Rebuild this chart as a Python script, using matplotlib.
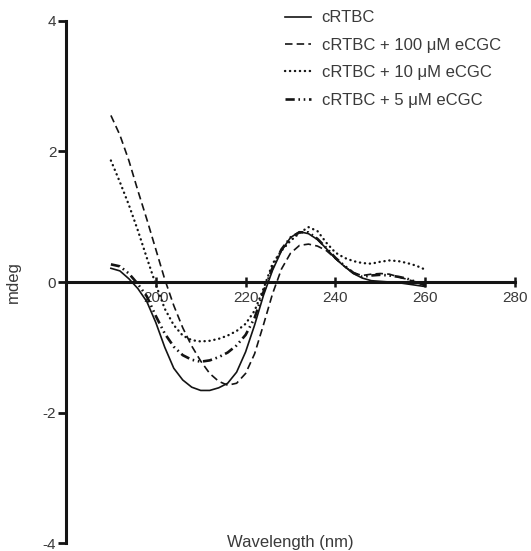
import matplotlib
matplotlib.use("Agg")
import matplotlib.pyplot as plt

plt.rcParams['font.family'] = ['Liberation Sans', 'DejaVu Sans']
plt.rcParams['axes.unicode_minus'] = False

# Wavelength grid (nm) and CD signal (mdeg) for each sample
wavelength = [190, 192, 194, 196, 198, 200, 202, 204, 206, 208, 210, 212,
              214, 216, 218, 220, 222, 224, 226, 228, 230, 232, 234, 236,
              238, 240, 242, 244, 246, 248, 250, 252, 254, 256, 258, 260]

crtbc = [0.21, 0.17, 0.05, -0.10, -0.30, -0.62, -1.00, -1.32, -1.50, -1.61,
         -1.66, -1.66, -1.62, -1.55, -1.38, -1.07, -0.66, -0.20, 0.18, 0.48,
         0.68, 0.77, 0.74, 0.65, 0.51, 0.36, 0.24, 0.13, 0.06, 0.02,
         0.01, 0.00, -0.01, -0.03, -0.05, -0.07]

crtbc_100 = [2.55, 2.25, 1.86, 1.40, 0.96, 0.50, 0.04, -0.36, -0.70, -0.98,
             -1.21, -1.40, -1.52, -1.58, -1.55, -1.40, -1.10, -0.65, -0.18, 0.20,
             0.44, 0.56, 0.58, 0.55, 0.48, 0.36, 0.24, 0.14, 0.10, 0.12,
             0.13, 0.12, 0.08, 0.04, 0.00, -0.05]

crtbc_10 = [1.86, 1.53, 1.18, 0.79, 0.37, -0.04, -0.41, -0.66, -0.82, -0.89,
            -0.91, -0.90, -0.87, -0.82, -0.75, -0.64, -0.44, -0.10, 0.28, 0.48,
            0.63, 0.75, 0.84, 0.78, 0.60, 0.45, 0.37, 0.32, 0.29, 0.28,
            0.31, 0.33, 0.32, 0.29, 0.25, 0.19]

crtbc_5 = [0.27, 0.24, 0.13, -0.03, -0.22, -0.52, -0.79, -0.99, -1.12, -1.19,
           -1.22, -1.20, -1.15, -1.08, -0.97, -0.81, -0.55, -0.15, 0.22, 0.50,
           0.68, 0.76, 0.76, 0.66, 0.52, 0.37, 0.25, 0.14, 0.08, 0.10,
           0.11, 0.10, 0.08, 0.05, 0.00, -0.05]

labels = ["cRTBC",
          "cRTBC + 100 \u03bcM eCGC",
          "cRTBC + 10 \u03bcM eCGC",
          "cRTBC + 5 \u03bcM eCGC"]

x_ticks = [200, 220, 240, 260, 280]
y_ticks = [-4, -2, 0, 2, 4]

ink = '#141414'
text_col = '#3a3a3a'

fig = plt.figure(figsize=(5.31, 5.51), dpi=100)
ax = fig.add_axes([66 / 531, 7.7 / 551, 449 / 531, 522.6 / 551])

h1, = ax.plot(wavelength, crtbc, color=ink, lw=1.2, ls='-')
h2, = ax.plot(wavelength, crtbc_100, color=ink, lw=1.2, ls=(0, (4.5, 2.5)))
h3, = ax.plot(wavelength, crtbc_10, color=ink, lw=1.7, ls=(0, (0.1, 2.0)),
              dash_capstyle='round')
h4, = ax.plot(wavelength, crtbc_5, color=ink, lw=1.9,
              ls=(0, (3.5, 1.4, 0.6, 1.4, 0.6, 1.4)))

ax.set_xlim(180, 280)
ax.set_ylim(-4, 4)

for side in ('top', 'right'):
    ax.spines[side].set_visible(False)
ax.spines['bottom'].set_position(('data', 0))
ax.spines['left'].set_linewidth(2.2)
ax.spines['bottom'].set_linewidth(2.2)
ax.spines['left'].set_color(ink)
ax.spines['bottom'].set_color(ink)

ax.set_xticks(x_ticks)
ax.set_yticks(y_ticks)
ax.tick_params(axis='x', direction='inout', length=7, width=1.8, color=ink,
               labelsize=11, labelcolor=text_col, pad=3)
ax.tick_params(axis='y', direction='out', length=6, width=2.0, color=ink,
               labelsize=11, labelcolor=text_col, pad=1)

ax.set_ylabel("mdeg", fontsize=12, color=text_col)
ax.yaxis.set_label_coords(-0.1, 0.5)
fig.text(290.5 / 531, (551 - 542) / 551, "Wavelength (nm)", fontsize=12,
         color=text_col, ha='center', va='center')

leg = ax.legend([h1, h2, h3, h4], labels, loc='upper left',
                bbox_to_anchor=(285 / 531, 1 - 10.5 / 551),
                bbox_transform=fig.transFigure, frameon=False, fontsize=12,
                handlelength=1.55, handletextpad=0.65, labelspacing=0.74,
                borderpad=0, borderaxespad=0)
for t in leg.get_texts():
    t.set_color(text_col)

fig.savefig("out.png", dpi=100)
